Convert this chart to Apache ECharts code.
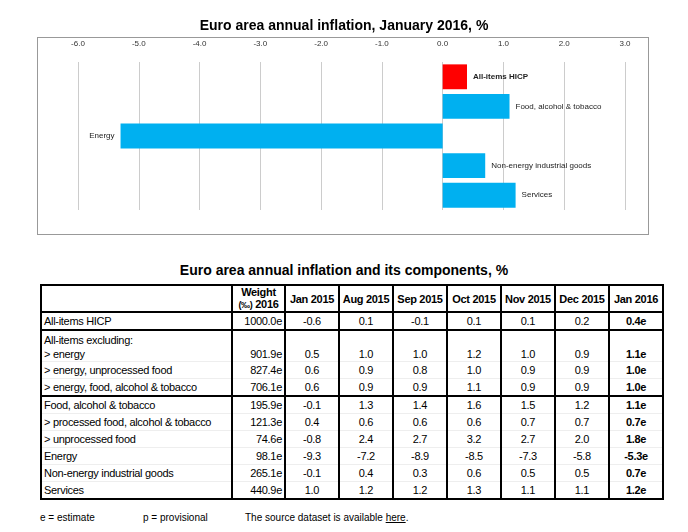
<!DOCTYPE html>
<html>
<head>
<meta charset="utf-8">
<script src="https://cdn.jsdelivr.net/npm/echarts@6/dist/echarts.min.js"></script>
<style>
body { margin:0; background:#fff; font-family:"Liberation Sans",Arial,sans-serif; }
#box { position:absolute; left:37px; top:37px; width:610px; height:196px; border:1px solid #999; }
#main { position:absolute; left:0; top:0; width:688px; height:240px; }
#ttl2 { position:absolute; left:0; width:688px; top:262px; text-align:center; font:bold 14px "Liberation Sans",Arial; }
table { position:absolute; left:40px; top:284px; width:622px; table-layout:fixed; border-collapse:collapse; border:2px solid #000; font-size:11px; letter-spacing:-0.3px; }
td { padding:0 2px; height:16px; border-left:2px solid #000; border-top:1px solid #eee; text-align:center; white-space:nowrap; overflow:hidden; }
td.lab { text-align:left; }
td.w { text-align:right; }
tr.hd td { font-weight:bold; height:25px; line-height:12px; border-bottom:2px solid #000; }
tr.thick td { border-top:2px solid #000; }
tr.tall td { height:30px; vertical-align:bottom; line-height:14px; }
td.b { font-weight:bold; }
#foot { position:absolute; top:512px; left:40px; font-size:10px; width:600px; }
#foot span { position:absolute; white-space:nowrap; }
</style>
</head>
<body>
<div id="box"></div>
<div id="main"></div>
<div id="ttl2">Euro area annual inflation and its components, %</div>
<table id="tbl"></table>
<div id="foot"><span style="left:0">e = estimate</span><span style="left:103px">p = provisional</span><span style="left:205px">The source dataset is available <u>here</u>.</span></div>
<script>
// chart data
var chartCats = ['All-items HICP', 'Food, alcohol & tobacco', 'Energy', 'Non-energy industrial goods', 'Services'];
var chartVals = [0.4, 1.1, -5.3, 0.7, 1.2];

// table data
var months = ['Jan 2015', 'Aug 2015', 'Sep 2015', 'Oct 2015', 'Nov 2015', 'Dec 2015', 'Jan 2016'];
var rowLabels = ['All-items HICP', '> energy', '> energy, unprocessed food', '> energy, food, alcohol & tobacco',
    'Food, alcohol & tobacco', '> processed food, alcohol & tobacco', '> unprocessed food', 'Energy',
    'Non-energy industrial goods', 'Services'];
var weights = ['1000.0e', '901.9e', '827.4e', '706.1e', '195.9e', '121.3e', '74.6e', '98.1e', '265.1e', '440.9e'];
var rates = [
    ['-0.6', '0.1', '-0.1', '0.1', '0.1', '0.2', '0.4e'],
    ['0.5', '1.0', '1.0', '1.2', '1.0', '0.9', '1.1e'],
    ['0.6', '0.9', '0.8', '1.0', '0.9', '0.9', '1.0e'],
    ['0.6', '0.9', '0.9', '1.1', '0.9', '0.9', '1.0e'],
    ['-0.1', '1.3', '1.4', '1.6', '1.5', '1.2', '1.1e'],
    ['0.4', '0.6', '0.6', '0.6', '0.7', '0.7', '0.7e'],
    ['-0.8', '2.4', '2.7', '3.2', '2.7', '2.0', '1.8e'],
    ['-9.3', '-7.2', '-8.9', '-8.5', '-7.3', '-5.8', '-5.3e'],
    ['-0.1', '0.4', '0.3', '0.6', '0.5', '0.5', '0.7e'],
    ['1.0', '1.2', '1.2', '1.3', '1.1', '1.1', '1.2e']
];

var myChart = echarts.init(document.getElementById('main'));
var font = '"Liberation Sans",Arial';
var option = {
    animation: false,
    title: {
        text: 'Euro area annual inflation, January 2016, %',
        left: 'center', top: 14,
        textStyle: { fontSize: 14, fontWeight: 'bold', fontFamily: font, color: '#000' }
    },
    grid: { left: 78, right: 63, top: 62, bottom: 30 },
    xAxis: {
        type: 'value', position: 'top', min: -6, max: 3, interval: 1,
        axisLine: { show: false }, axisTick: { show: false },
        axisLabel: { fontSize: 8, color: '#333', fontFamily: font, margin: 14,
            formatter: function (v) { return v.toFixed(1); } },
        splitLine: { lineStyle: { color: '#ccc' } }
    },
    yAxis: {
        type: 'category', data: chartCats, inverse: true,
        axisLine: { show: false }, axisTick: { show: false }, axisLabel: { show: false }
    },
    series: [{
        type: 'bar',
        barWidth: '84%',
        data: chartVals.map(function (v, i) {
            return {
                value: v,
                itemStyle: { color: i === 0 ? '#ff0000' : '#00b0f0' },
                label: {
                    show: true, position: v < 0 ? 'left' : 'right', distance: 6,
                    formatter: chartCats[i], fontSize: 8, color: '#222', fontFamily: font,
                    fontWeight: i === 0 ? 'bold' : 'normal'
                }
            };
        })
    }]
};
myChart.setOption(option);

// build table
var html = '<colgroup><col style="width:191px"><col style="width:53px">';
months.forEach(function () { html += '<col style="width:54px">'; });
html += '</colgroup><tr class="hd"><td class="lab"></td><td>Weight<br><span style="font-size:9px">(‰)</span> 2016</td>';
months.forEach(function (m) { html += '<td>' + m + '</td>'; });
html += '</tr>';
rowLabels.forEach(function (lab, i) {
    var cls = [];
    if (i === 1 || i === 4) cls.push('thick');
    if (i === 1) cls.push('tall');
    html += '<tr class="' + cls.join(' ') + '"><td class="lab">' + (i === 1 ? 'All-items excluding:<br>' : '') + lab + '</td>';
    html += '<td class="w">' + weights[i] + '</td>';
    rates[i].forEach(function (r, j) {
        html += '<td' + (j === 6 ? ' class="b"' : '') + '>' + r + '</td>';
    });
    html += '</tr>';
});
document.getElementById('tbl').innerHTML = html;
window.onresize = myChart.resize;
</script>
</body>
</html>
